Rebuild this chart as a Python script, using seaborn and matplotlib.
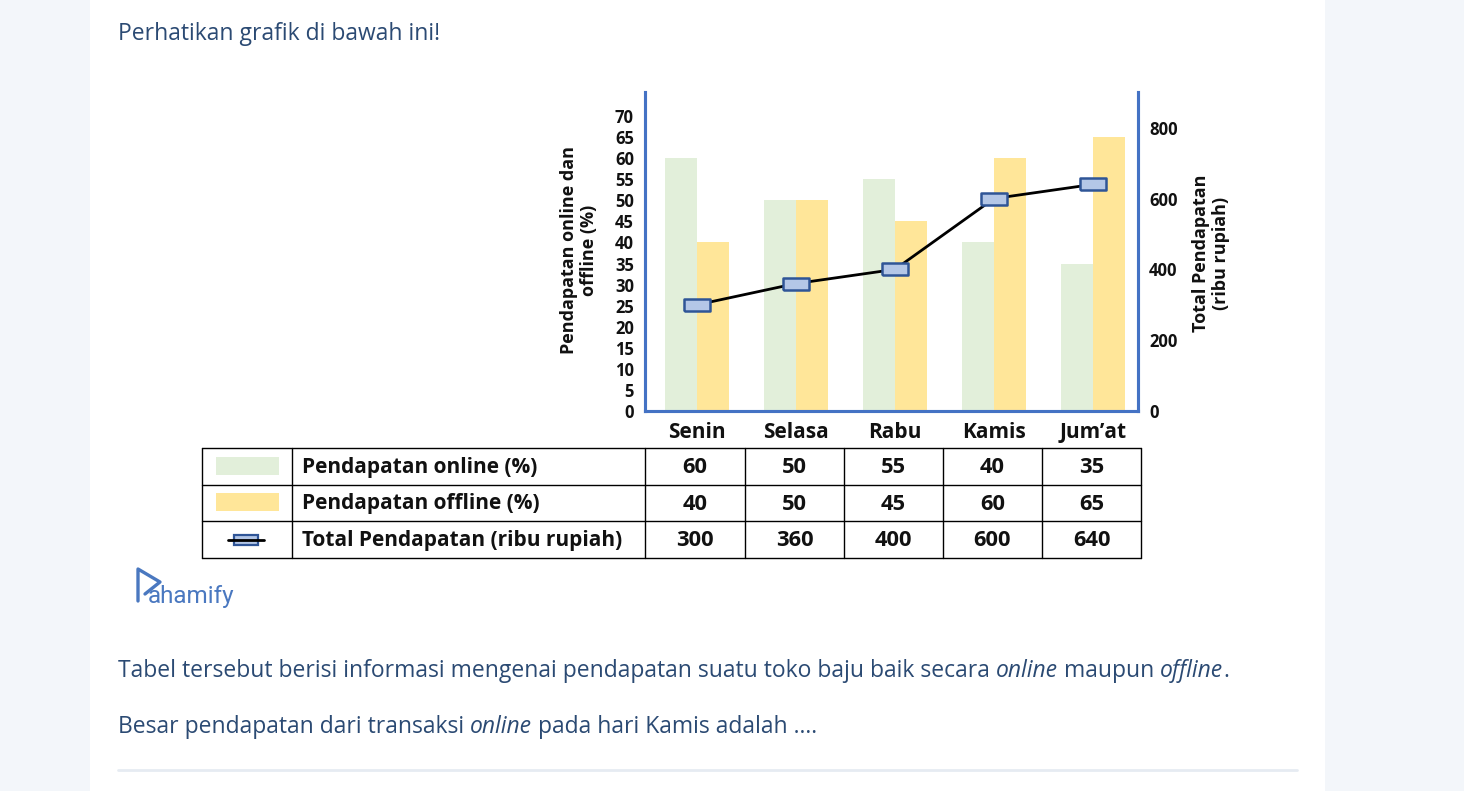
import matplotlib
matplotlib.use("Agg")
import matplotlib.pyplot as plt
import seaborn as sns
import numpy as np
import pandas as pd

days = ["Senin", "Selasa", "Rabu", "Kamis", "Jum\u2019at"]
online = [60, 50, 55, 40, 35]
offline = [40, 50, 45, 60, 65]
total = [300, 360, 400, 600, 640]
series_names = ["Pendapatan online (%)", "Pendapatan offline (%)", "Total Pendapatan (ribu rupiah)"]
left_ticks = list(range(0, 75, 5))
right_ticks = [0, 200, 400, 600, 800]

GREEN = "#e2efda"
YELLOW = "#ffe699"
BLUE = "#4472c4"
MK_FACE = "#b4c7e7"
MK_EDGE = "#2f5597"
NAVY = "#2b4a73"
INK = "#111111"
PAGE = "#f3f6fa"

sns.set_style("white")
plt.rcParams["font.family"] = ["Open Sans", "DejaVu Sans"]

W, H = 1464, 791
fig = plt.figure(figsize=(W / 100, H / 100), dpi=100)
fig.patch.set_facecolor(PAGE)
renderer = fig.canvas.get_renderer()

# page background in pixel coordinates
bg = fig.add_axes([0, 0, 1, 1], zorder=0)
bg.set_xlim(0, W)
bg.set_ylim(H, 0)
bg.axis("off")
bg.add_patch(plt.Rectangle((90, 0), 1235, H, color="white", lw=0))


def fit_size(parts, width, weight="normal", family=None):
    # font size so that the joined parts span `width` pixels
    tot = 0
    for s, style in parts:
        t = fig.text(0, 0, s, fontsize=10, style=style, fontweight=weight, family=family)
        tot += t.get_window_extent(renderer).width
        t.remove()
    return 10 * width / tot


# chart
def px_axes(x0, y0, x1, y1):
    return [x0 / W, 1 - y1 / H, (x1 - x0) / W, (y1 - y0) / H]

ax = fig.add_axes(px_axes(645, 92, 1138, 411), zorder=1)
ax.patch.set_visible(False)
df = pd.DataFrame({
    "hari": days * 2,
    "nilai": online + offline,
    "jenis": [series_names[0]] * 5 + [series_names[1]] * 5,
})
sns.barplot(data=df, x="hari", y="nilai", hue="jenis", palette=[GREEN, YELLOW],
            width=0.64, linewidth=0, saturation=1, legend=False, ax=ax)
ax.set_xlim(-0.525, 4.455)
ax.set_ylim(0, 75.7)
ax.set_yticks(left_ticks)
ax.set_xlabel("")
ax.set_ylabel("")
ax.tick_params(axis="y", length=0, pad=8, labelsize=12)
ax.tick_params(axis="x", length=0, pad=8, labelsize=15)
for t in ax.get_xticklabels() + ax.get_yticklabels():
    t.set_fontweight("bold")
    t.set_color(INK)

ax2 = ax.twinx()
ax2.set_zorder(2)
rect = [(-1, -0.45), (1, -0.45), (1, 0.45), (-1, 0.45), (-1, -0.45)]
sns.lineplot(x=np.arange(len(days)), y=total, ax=ax2, color="black", lw=2,
             marker=rect, markersize=19, markerfacecolor=MK_FACE,
             markeredgecolor=MK_EDGE, markeredgewidth=1.8)
ax2.set_ylim(0, 901)
ax2.set_yticks(right_ticks)
ax2.set_ylabel("")
ax2.tick_params(axis="y", length=0, pad=8, labelsize=12)
for t in ax2.get_yticklabels():
    t.set_fontweight("bold")
    t.set_color(INK)

for a in (ax, ax2):
    a.spines["top"].set_visible(False)
    for s in ("left", "right", "bottom"):
        a.spines[s].set_color(BLUE)
        a.spines[s].set_linewidth(2.2)
        a.spines[s].set_visible(True)

# axis titles
bg.text(579, 250, "Pendapatan online dan\noffline (%)", rotation=90, ha="center", va="center",
        multialignment="center", fontsize=13, fontweight="bold", color=INK, linespacing=1.2)
bg.text(1211, 253, "Total Pendapatan\n(ribu rupiah)", rotation=90, ha="center", va="center",
        multialignment="center", fontsize=13, fontweight="bold", color=INK, linespacing=1.2)

# data table under the chart
col_x = [202, 292, 645, 745, 844, 943, 1042, 1141]
row_y = [448, 485, 521, 558]
for yy in row_y:
    bg.plot([col_x[0], col_x[-1]], [yy, yy], color="black", lw=1)
for xx in col_x:
    bg.plot([xx, xx], [row_y[0], row_y[-1]], color="black", lw=1)
tsize = fit_size([(series_names[2], "normal")], 321, weight="bold")
rows = [online, offline, total]
for r, vals in enumerate(rows):
    cy = (row_y[r] + row_y[r + 1]) / 2 + 1
    bg.text(302, cy, series_names[r], ha="left", va="center", fontsize=tsize,
            fontweight="bold", color=INK)
    for c, v in enumerate(vals):
        cx = (col_x[c + 2] + col_x[c + 3]) / 2
        bg.text(cx, cy, str(v), ha="center", va="center", fontsize=tsize * 1.05,
                fontweight="bold", color=INK)
bg.add_patch(plt.Rectangle((216, 457), 63, 18, color=GREEN, lw=0))
bg.add_patch(plt.Rectangle((216, 493), 63, 18, color=YELLOW, lw=0))
bg.plot([228, 264], [540, 540], color="black", lw=2)
bg.add_patch(plt.Rectangle((234, 535), 24, 10, facecolor=MK_FACE, edgecolor=MK_EDGE, lw=1.6))

# logo
LOGO = "#4a78c0"
bg.plot([138, 138, 160, 145], [601, 569, 582, 594], color=LOGO, lw=2.4,
        solid_joinstyle="round", solid_capstyle="round")
lsize = fit_size([("ahamify", "normal")], 87, family="Roboto")
bg.text(148, 603, "ahamify", fontsize=lsize, color=LOGO, ha="left", va="baseline", family="Roboto")

# page text
line1 = [("Tabel tersebut berisi informasi mengenai pendapatan suatu toko baju baik secara ", "normal"),
         ("online", "italic"), (" maupun ", "normal"), ("offline", "italic"), (".", "normal")]
line2 = [("Besar pendapatan dari transaksi ", "normal"), ("online", "italic"),
         (" pada hari Kamis adalah ....", "normal")]
bsize = fit_size(line1, 1112)

fig.canvas.draw()
inv = bg.transData.inverted()


def text_run(x, y, parts):
    for s, style in parts:
        t = bg.text(x, y, s, fontsize=bsize, color=NAVY, style=style,
                    ha="left", va="baseline")
        bb = t.get_window_extent(renderer)
        x = inv.transform((bb.x1, 0))[0]


text_run(118, 40, [("Perhatikan grafik di bawah ini!", "normal")])
text_run(118, 677, line1)
text_run(118, 733, line2)
bg.plot([118, 1297], [770, 770], color="#e6ebf2", lw=2)

fig.savefig("out.png", dpi=100, facecolor=fig.get_facecolor())
